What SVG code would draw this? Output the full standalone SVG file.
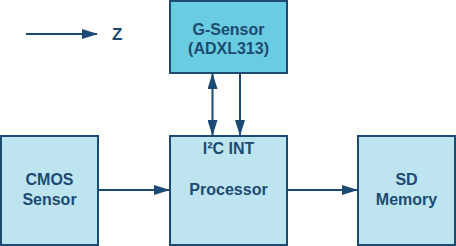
<svg xmlns="http://www.w3.org/2000/svg" width="456" height="246" viewBox="0 0 456 246">
<style>
.box{stroke:#1b4a72;stroke-width:2}
.light{fill:#bee4ef}
.dark{fill:#69cce0}
.t{font-family:"Liberation Sans",Arial,sans-serif;font-weight:bold;font-size:16px;fill:#1d4a72;text-anchor:middle}
.z{font-family:"Liberation Sans",Arial,sans-serif;font-weight:bold;font-size:17px;fill:#1d4a72}
.c{stroke:#1b4a72;stroke-width:2;fill:none}
</style>
<defs>
<marker id="ah" markerWidth="16" markerHeight="10" refX="15" refY="5" orient="auto" markerUnits="userSpaceOnUse">
<path d="M0,0 L16,5 L0,10 Z" fill="#1b4a72"/>
</marker>
<marker id="as" markerWidth="16" markerHeight="10" refX="15" refY="5" orient="auto-start-reverse" markerUnits="userSpaceOnUse">
<path d="M0,0 L16,5 L0,10 Z" fill="#1b4a72"/>
</marker>
</defs>
<g id="legend">
<line class="c" x1="26" y1="34" x2="97" y2="34" marker-end="url(#ah)"/>
<text class="z" x="112" y="40">Z</text>
</g>
<g id="gsensor">
<rect class="box dark" x="170" y="1" width="117" height="72"/>
<text class="t" x="228.5" y="34.5">G-Sensor</text>
<text class="t" x="228.5" y="53.5">(ADXL313)</text>
</g>
<g id="cmos">
<rect class="box light" x="1" y="136" width="97" height="109"/>
<text class="t" x="49.5" y="185">CMOS</text>
<text class="t" x="49.5" y="204.5">Sensor</text>
</g>
<g id="processor">
<rect class="box light" x="170" y="136" width="117" height="109"/>
<text class="t" x="228.5" y="154">I²C INT</text>
<text class="t" x="228.5" y="194.5">Processor</text>
</g>
<g id="sd">
<rect class="box light" x="358" y="136" width="97" height="109"/>
<text class="t" x="406.5" y="184.5">SD</text>
<text class="t" x="406.5" y="204.5">Memory</text>
</g>
<g id="connectors">
<line class="c" x1="98" y1="190" x2="169" y2="190" marker-end="url(#ah)"/>
<line class="c" x1="287" y1="190" x2="357" y2="190" marker-end="url(#ah)"/>
<line class="c" x1="212.5" y1="74" x2="212.5" y2="135" marker-start="url(#as)" marker-end="url(#ah)"/>
<line class="c" x1="240" y1="73" x2="240" y2="135" marker-end="url(#ah)"/>
</g>
</svg>
